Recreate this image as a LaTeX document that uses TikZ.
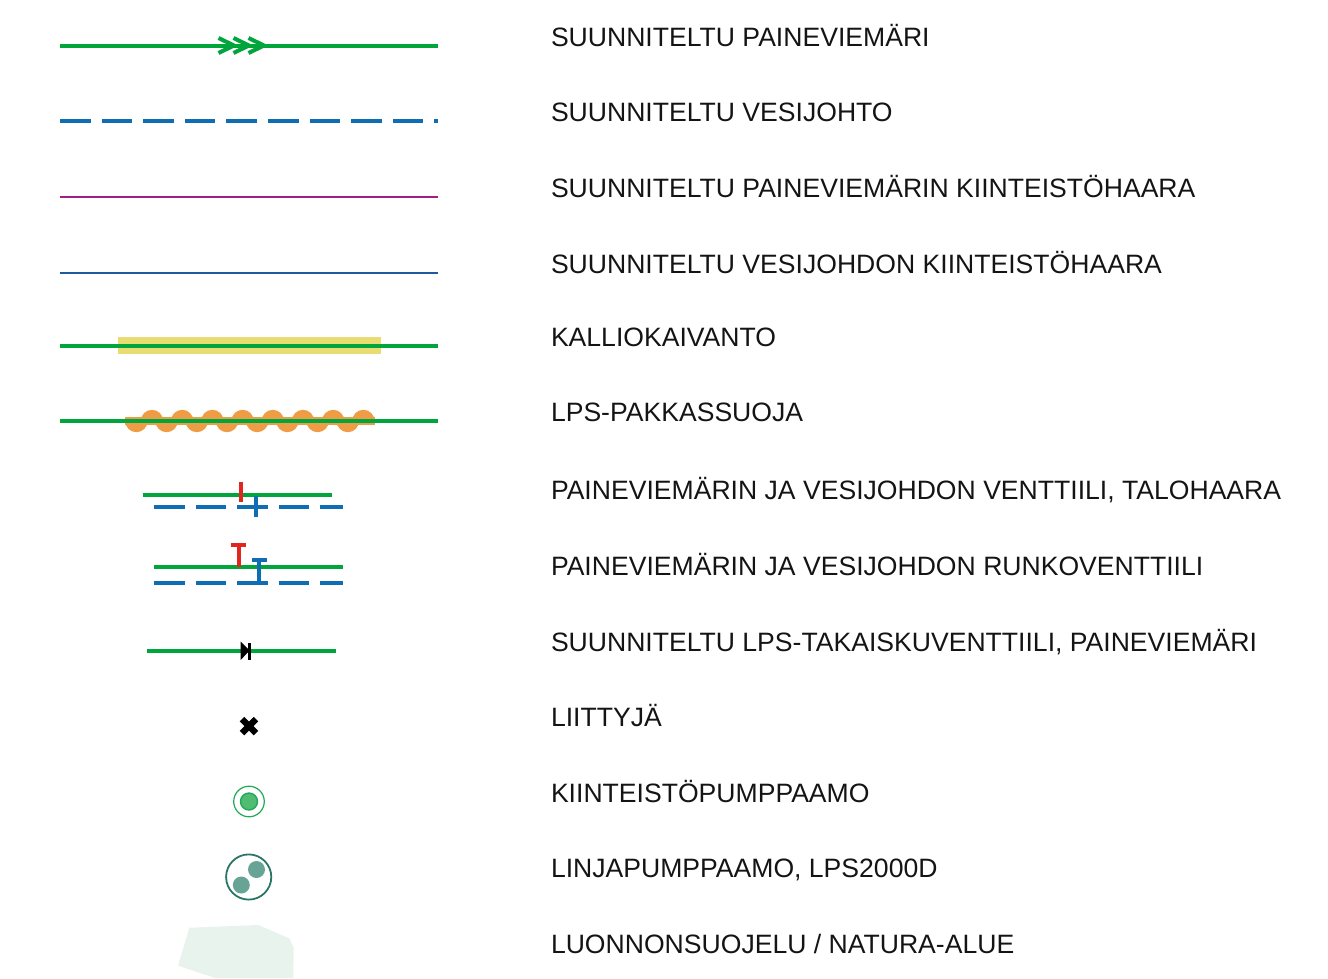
\documentclass[tikz,border=0pt]{standalone}
\usepackage{fontspec}
\setmainfont{Liberation Sans}
\definecolor{pgreen}{HTML}{00A63C}
\definecolor{pblue}{HTML}{0F6DB3}
\definecolor{ppurple}{HTML}{A01F80}
\definecolor{pnavy}{HTML}{1F5AA0}
\definecolor{pyellow}{HTML}{E9DC72}
\definecolor{porange}{HTML}{EF9C47}
\definecolor{pred}{HTML}{E1251F}
\definecolor{kgreen}{HTML}{1FAA55}
\definecolor{kfill}{HTML}{4FBB73}
\definecolor{lstroke}{HTML}{2A7565}
\definecolor{lfill}{HTML}{68A496}
\definecolor{nfill}{HTML}{E9F3EE}
\tikzset{
  x=1pt,y=-1pt,
  lab/.style={anchor=base west,inner sep=0pt,outer sep=0pt,font=\fontsize{26.58}{30}\selectfont,text=black!92},
  gline/.style={draw=pgreen,line width=4pt},
  bdash/.style={draw=pblue,line width=4pt,dash pattern=on 30.6pt off 11pt},
  redv/.style={draw=pred,line width=4pt},
  bluev/.style={draw=pblue,line width=4pt},
  chev/.style={draw=pgreen,line width=4pt,miter limit=10},
}
\begin{document}
\begin{tikzpicture}
\useasboundingbox (0,0) rectangle (1328,978);
% labels
\node[lab] (t1) at (551,46) {SUUNNITELTU PAINEVIEMÄRI};
\node[lab] (t2) at (551,121) {SUUNNITELTU VESIJOHTO};
\node[lab] (t3) at (551,197) {SUUNNITELTU PAINEVIEMÄRIN KIINTEISTÖHAARA};
\node[lab] (t4) at (551,273) {SUUNNITELTU VESIJOHDON KIINTEISTÖHAARA};
\node[lab] (t5) at (551,346) {KALLIOKAIVANTO};
\node[lab] (t6) at (551,421) {LPS-PAKKASSUOJA};
\node[lab] (t7) at (551,499) {PAINEVIEMÄRIN JA VESIJOHDON VENTTIILI, TALOHAARA};
\node[lab] (t8) at (551,575) {PAINEVIEMÄRIN JA VESIJOHDON RUNKOVENTTIILI};
\node[lab] (t9) at (551,651) {SUUNNITELTU LPS-TAKAISKUVENTTIILI, PAINEVIEMÄRI};
\node[lab] (t10) at (551,726) {LIITTYJÄ};
\node[lab] (t11) at (551,802) {KIINTEISTÖPUMPPAAMO};
\node[lab] (t12) at (551,877) {LINJAPUMPPAAMO, LPS2000D};
\node[lab] (t13) at (551,953) {LUONNONSUOJELU / NATURA-ALUE};
% 1 pressure sewer
\draw[gline] (60,45.5) -- (438,45.5);
\foreach \dx in {0,15,30}{
  \draw[chev] (218.5+\dx,38) -- (234+\dx,45.5) -- (218.5+\dx,53);
}
% 2 water main
\draw[bdash] (60,121.3) -- (438,121.3);
% 3, 4
\draw[draw=ppurple,line width=2pt] (60,197) -- (438,197);
\draw[draw=pnavy,line width=2pt] (60,272.5) -- (438,272.5);
% 5 rock trench
\fill[pyellow] (118.3,337) rectangle (381.2,354);
\draw[gline] (60,345.5) -- (438,345.5);
% 6 frost protection
\fill[porange] (125,417) rectangle (375,425);
\foreach \i in {0,...,7}{
  \fill[porange] ({136.4+30.2*\i-11.2},421) arc[start angle=180,end angle=360,x radius=11.2,y radius=-11.2] -- cycle;
  \fill[porange] ({152+30.2*\i-11.2},421) arc[start angle=180,end angle=360,x radius=11.2,y radius=11.2] -- cycle;
}
\draw[gline] (60,421) -- (438,421);
% 7 valves branch
\draw[gline] (143,494.5) -- (332,494.5);
\draw[bdash] (154,507) -- (343,507);
\draw[redv] (241,481.5) -- (241,502);
\draw[bluev] (256.3,496) -- (256.3,517);
% 8 main valves
\draw[gline] (154,567.3) -- (343,567.3);
\draw[bdash] (154,582.5) -- (343,582.5);
\draw[redv] (238.7,545) -- (238.7,567);
\draw[redv] (231,544.5) -- (246,544.5);
\draw[bluev] (259,560) -- (259,582);
\draw[bluev] (251.5,559.5) -- (266.5,559.5);
% 9 non-return valve
\draw[gline] (147,650.5) -- (336,650.5);
\fill[black] (240.7,641.5) -- (249.5,650.5) -- (240.7,660) -- cycle;
\fill[black] (247.8,642.5) rectangle (250.5,659.5);
% 10 connection
\draw[black,line width=6.4pt] (242,719.2) -- (256,733.2);
\draw[black,line width=6.4pt] (256,719.2) -- (242,733.2);
% 11 property pump
\draw[kgreen,line width=1.2pt] (249,801.5) circle[radius=15.3];
\draw[kgreen,fill=kfill,line width=1.4pt] (249,801.5) circle[radius=8.5];
% 12 line pump
\draw[lstroke,line width=1.8pt] (248.7,877) circle[radius=22.6];
\fill[lfill] (256.5,869.5) circle[radius=8.5];
\fill[lfill] (241.3,885) circle[radius=8.5];
% 13 nature reserve
\fill[nfill] (189.3,927.7) -- (258.3,925) -- (289.3,938.3) -- (293.7,947.7) -- (293.3,978) -- (215,978) -- (178,965.7) -- cycle;
\end{tikzpicture}
\end{document}
